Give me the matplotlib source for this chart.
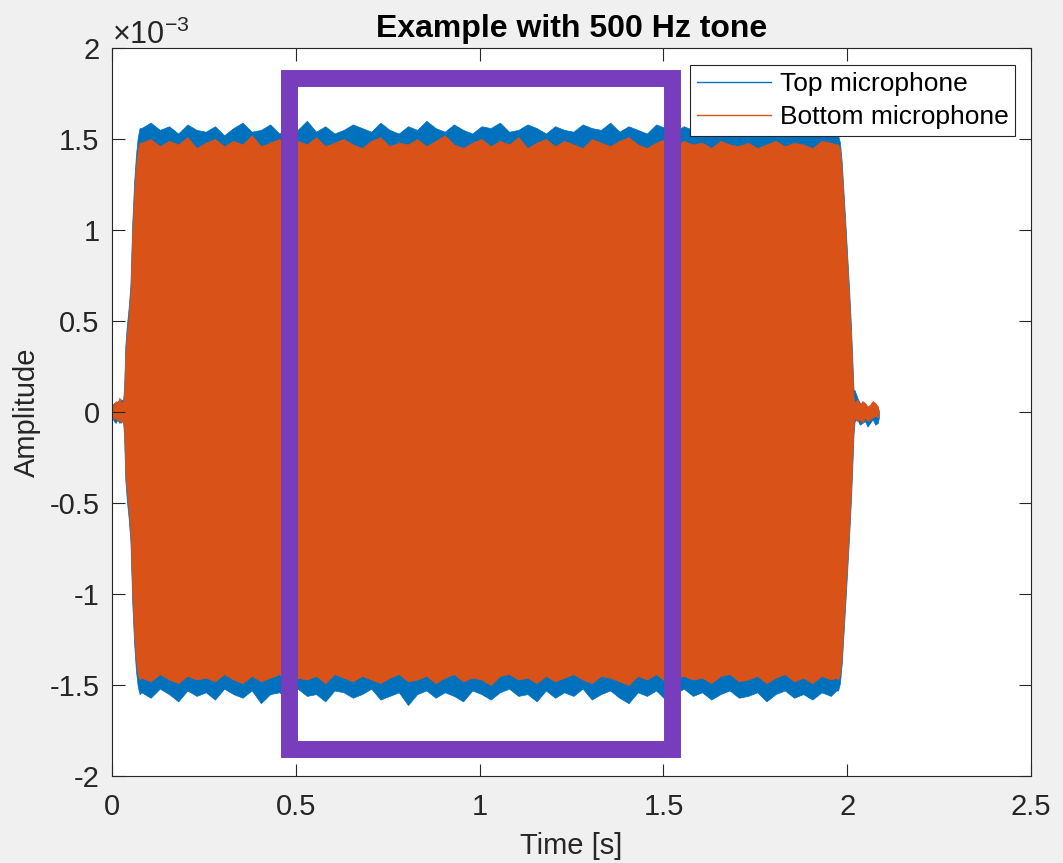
import numpy as np
import matplotlib
matplotlib.use('Agg')
import matplotlib.pyplot as plt
from matplotlib.patches import Rectangle
from matplotlib.lines import Line2D

plt.rcParams['font.family'] = ['Liberation Sans', 'DejaVu Sans']
plt.rcParams['mathtext.fontset'] = 'custom'
plt.rcParams['mathtext.rm'] = 'Liberation Sans'
plt.rcParams['mathtext.it'] = 'Liberation Sans'

# Envelope of the recorded 500 Hz tone (amplitude in units of 1e-3)
# leading noise, onset ramp, steady tone, release ramp, trailing noise
t_start = [0.000, 0.005, 0.010, 0.015, 0.020, 0.025, 0.030]
t_rise = [0.033, 0.036, 0.040, 0.045, 0.050, 0.055, 0.060, 0.065, 0.070, 0.075]
t_main = [0.080, 0.105, 0.130, 0.155, 0.180, 0.205, 0.230, 0.255, 0.280, 0.305,
          0.330, 0.355, 0.380, 0.405, 0.430, 0.455, 0.480, 0.505, 0.530, 0.555,
          0.580, 0.605, 0.630, 0.655, 0.680, 0.705, 0.730, 0.755, 0.780, 0.805,
          0.830, 0.855, 0.880, 0.905, 0.930, 0.955, 0.980, 1.005, 1.030, 1.055,
          1.080, 1.105, 1.130, 1.155, 1.180, 1.205, 1.230, 1.255, 1.280, 1.305,
          1.330, 1.355, 1.380, 1.405, 1.430, 1.455, 1.480, 1.505, 1.530, 1.555,
          1.580, 1.605, 1.630, 1.655, 1.680, 1.705, 1.730, 1.755, 1.780, 1.805,
          1.830, 1.855, 1.880, 1.905, 1.930, 1.955, 1.970]
t_fall = [1.975, 1.980, 1.985, 1.990, 1.995, 2.000, 2.005, 2.010, 2.014, 2.017]
t_tail = [2.020, 2.027, 2.034, 2.041, 2.048, 2.055, 2.062, 2.069, 2.076, 2.083, 2.086]

# Top microphone
top_hi_start = [0.03, 0.05, 0.04, 0.06, 0.05, 0.07, 0.06]
top_lo_start = [-0.03, -0.05, -0.06, -0.04, -0.06, -0.05, -0.05]
top_hi_rise = [0.14, 0.36, 0.47, 0.57, 0.70, 1.04, 1.26, 1.41, 1.51, 1.56]
top_lo_rise = [-0.14, -0.37, -0.48, -0.58, -0.71, -1.05, -1.27, -1.42, -1.51, -1.55]
top_hi_main = [1.56, 1.59, 1.55, 1.57, 1.53, 1.58, 1.55, 1.54, 1.57, 1.52,
               1.56, 1.59, 1.54, 1.55, 1.58, 1.53, 1.56, 1.55, 1.60, 1.54,
               1.57, 1.53, 1.55, 1.58, 1.56, 1.54, 1.59, 1.55, 1.53, 1.57,
               1.55, 1.60, 1.56, 1.54, 1.58, 1.55, 1.53, 1.57, 1.56, 1.59,
               1.54, 1.55, 1.58, 1.56, 1.53, 1.57, 1.55, 1.54, 1.58, 1.56,
               1.55, 1.59, 1.54, 1.57, 1.55, 1.53, 1.58, 1.56, 1.54, 1.57,
               1.55, 1.56, 1.53, 1.57, 1.55, 1.54, 1.56, 1.53, 1.55, 1.54,
               1.56, 1.53, 1.55, 1.54, 1.56, 1.55, 1.54]
top_lo_main = [-1.54, -1.57, -1.52, -1.55, -1.59, -1.53, -1.56, -1.54, -1.58, -1.52,
               -1.55, -1.57, -1.53, -1.60, -1.55, -1.54, -1.58, -1.52, -1.56, -1.55,
               -1.59, -1.53, -1.54, -1.57, -1.55, -1.52, -1.58, -1.56, -1.54, -1.61,
               -1.55, -1.53, -1.57, -1.54, -1.56, -1.59, -1.53, -1.55, -1.58, -1.54,
               -1.52, -1.56, -1.55, -1.59, -1.53, -1.57, -1.54, -1.56, -1.52, -1.58,
               -1.55, -1.53, -1.57, -1.60, -1.54, -1.56, -1.53, -1.58, -1.55, -1.52,
               -1.56, -1.54, -1.58, -1.55, -1.53, -1.57, -1.56, -1.54, -1.59, -1.55,
               -1.53, -1.57, -1.55, -1.58, -1.54, -1.56, -1.53]
top_hi_fall = [1.52, 1.48, 1.37, 1.20, 1.03, 0.85, 0.67, 0.47, 0.27, 0.12]
top_lo_fall = [-1.53, -1.49, -1.38, -1.21, -1.04, -0.86, -0.68, -0.48, -0.28, -0.12]
top_hi_tail = [0.12, 0.08, 0.05, 0.03, 0.04, 0.02, 0.03, 0.04, 0.02, 0.03, 0.00]
top_lo_tail = [-0.05, -0.04, -0.07, -0.06, -0.05, -0.08, -0.06, -0.04, -0.07, -0.06, -0.03]

# Bottom microphone
bot_hi_start = [0.03, 0.04, 0.06, 0.05, 0.08, 0.05, 0.06]
bot_lo_start = [-0.02, -0.04, -0.03, -0.05, -0.04, -0.06, -0.04]
bot_hi_rise = [0.10, 0.32, 0.42, 0.52, 0.65, 0.98, 1.20, 1.35, 1.44, 1.48]
bot_lo_rise = [-0.10, -0.33, -0.43, -0.53, -0.66, -0.99, -1.21, -1.36, -1.44, -1.47]
bot_hi_main = [1.48, 1.50, 1.46, 1.49, 1.47, 1.51, 1.45, 1.48, 1.50, 1.46,
               1.49, 1.47, 1.52, 1.46, 1.48, 1.50, 1.45, 1.49, 1.47, 1.51,
               1.46, 1.48, 1.50, 1.47, 1.45, 1.49, 1.51, 1.46, 1.48, 1.47,
               1.50, 1.46, 1.49, 1.52, 1.47, 1.45, 1.48, 1.50, 1.46, 1.49,
               1.47, 1.51, 1.45, 1.48, 1.50, 1.46, 1.49, 1.47, 1.45, 1.50,
               1.48, 1.46, 1.49, 1.51, 1.47, 1.45, 1.48, 1.50, 1.46, 1.49,
               1.47, 1.48, 1.45, 1.49, 1.47, 1.46, 1.48, 1.45, 1.47, 1.49,
               1.46, 1.48, 1.47, 1.45, 1.49, 1.48, 1.47]
bot_lo_main = [-1.46, -1.48, -1.44, -1.47, -1.49, -1.45, -1.47, -1.46, -1.48, -1.44,
               -1.47, -1.49, -1.45, -1.48, -1.46, -1.44, -1.48, -1.46, -1.47, -1.45,
               -1.49, -1.44, -1.46, -1.48, -1.45, -1.47, -1.49, -1.46, -1.44, -1.48,
               -1.47, -1.45, -1.49, -1.46, -1.44, -1.48, -1.46, -1.47, -1.50, -1.45,
               -1.44, -1.47, -1.46, -1.49, -1.45, -1.48, -1.46, -1.44, -1.47, -1.49,
               -1.45, -1.46, -1.48, -1.50, -1.45, -1.47, -1.44, -1.48, -1.46, -1.45,
               -1.47, -1.46, -1.49, -1.45, -1.44, -1.48, -1.47, -1.45, -1.49, -1.46,
               -1.44, -1.48, -1.46, -1.49, -1.45, -1.47, -1.46]
bot_hi_fall = [1.47, 1.44, 1.32, 1.15, 0.98, 0.80, 0.62, 0.42, 0.22, 0.08]
bot_lo_fall = [-1.47, -1.44, -1.33, -1.16, -0.99, -0.81, -0.63, -0.43, -0.23, -0.08]
bot_hi_tail = [0.05, 0.07, 0.04, 0.06, 0.05, 0.03, 0.04, 0.06, 0.05, 0.03, 0.00]
bot_lo_tail = [-0.03, -0.05, -0.04, -0.06, -0.03, -0.05, -0.04, -0.03, -0.02, -0.03, 0.00]

# analysis window marked on the plot
win_t = [0.48, 1.522]
win_amp = [-1.849, 1.835]

t = np.concatenate([t_start, t_rise, t_main, t_fall, t_tail])
top_hi = np.concatenate([top_hi_start, top_hi_rise, top_hi_main, top_hi_fall, top_hi_tail])
top_lo = np.concatenate([top_lo_start, top_lo_rise, top_lo_main, top_lo_fall, top_lo_tail])
bot_hi = np.concatenate([bot_hi_start, bot_hi_rise, bot_hi_main, bot_hi_fall, bot_hi_tail])
bot_lo = np.concatenate([bot_lo_start, bot_lo_rise, bot_lo_main, bot_lo_fall, bot_lo_tail])

c_top = '#0072BD'
c_bot = '#D95319'
c_box = '#773DBD'
c_ax = '#262626'

fig = plt.figure(figsize=(10.63, 8.63), dpi=100, facecolor='#f0f0f0')
ax = fig.add_axes([0.1054, 0.1008, 0.8646, 0.8436])

ax.fill_between(t, top_lo, top_hi, color=c_top, lw=0.5, edgecolor=c_top)
ax.fill_between(t, bot_lo, bot_hi, color=c_bot, lw=0.5, edgecolor=c_bot)

ax.add_patch(Rectangle((win_t[0], win_amp[0]), win_t[1] - win_t[0], win_amp[1] - win_amp[0],
                       fill=False, edgecolor=c_box, lw=12.2, joinstyle='miter', zorder=5))

ax.set_xlim(0, 2.5)
ax.set_ylim(-2, 2)
ax.set_xticks([0, 0.5, 1, 1.5, 2, 2.5])
ax.set_xticklabels(['0', '0.5', '1', '1.5', '2', '2.5'])
ax.set_yticks([-2, -1.5, -1, -0.5, 0, 0.5, 1, 1.5, 2])
ax.set_yticklabels(['-2', '-1.5', '-1', '-0.5', '0', '0.5', '1', '1.5', '2'])
ax.tick_params(direction='in', length=9, width=0.8, colors=c_ax, labelsize=21,
               top=True, right=True, pad=9)
ax.tick_params(axis='x', pad=12)
for s in ax.spines.values():
    s.set_color(c_ax)
    s.set_linewidth(0.8)

ax.text(0.0, 0.996, r'$\times 10^{-3}$', transform=ax.transAxes, fontsize=22,
        color=c_ax, ha='left', va='bottom')

ax.set_xlabel('Time [s]', fontsize=21, color=c_ax, labelpad=8)
ax.set_ylabel('Amplitude', fontsize=21, color=c_ax, labelpad=6)
ax.set_title('Example with 500 Hz tone', fontsize=23, fontweight='bold', pad=8)

handles = [Line2D([], [], color=c_top, lw=1), Line2D([], [], color=c_bot, lw=1)]
leg = ax.legend(handles, ['Top microphone', 'Bottom microphone'], loc='upper right',
                bbox_to_anchor=(0.9826, 0.976), fontsize=19, fancybox=False, framealpha=1,
                edgecolor=c_ax, handlelength=2.8, handletextpad=0.35, borderpad=0.25,
                labelspacing=0.35, borderaxespad=0)
leg.get_frame().set_linewidth(0.8)
leg.set_zorder(10)

fig.savefig('out.png', dpi=100, facecolor=fig.get_facecolor())
